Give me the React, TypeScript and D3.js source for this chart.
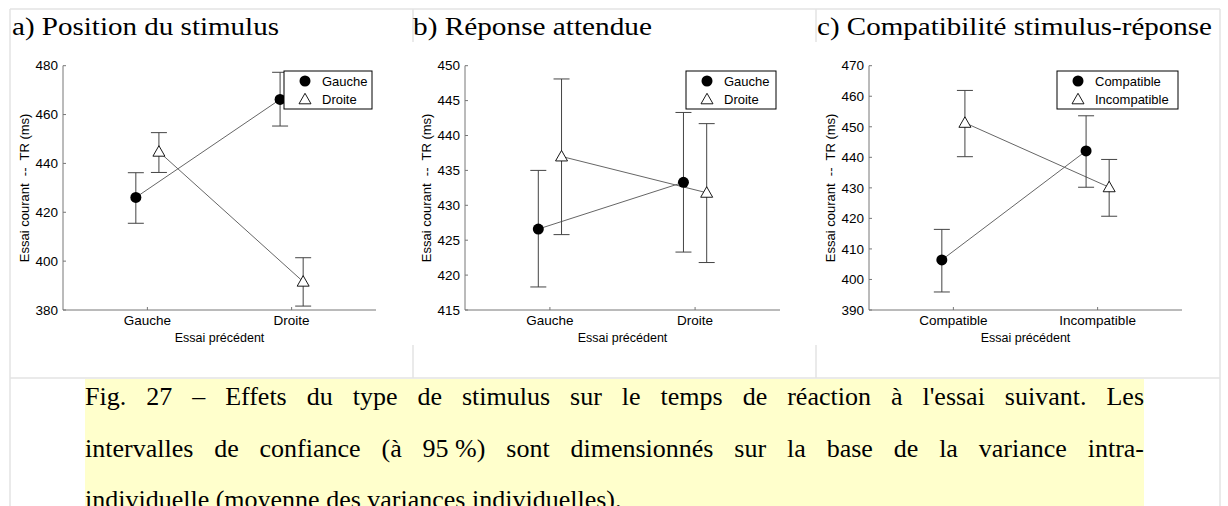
import React from 'react';
import * as d3 from 'd3';

// Panel a) Position du stimulus
const catsA = ['Gauche', 'Droite'];
const legendA = ['Gauche', 'Droite'];
const ticksA = [380, 400, 420, 440, 460, 480];
const meanA1 = [426.1, 466.2];
const loA1 = [415.5, 455.3];
const hiA1 = [436.2, 477.3];
const meanA2 = [444.8, 391.6];
const loA2 = [436.3, 381.6];
const hiA2 = [452.6, 401.4];

// Panel b) Réponse attendue
const catsB = ['Gauche', 'Droite'];
const legendB = ['Gauche', 'Droite'];
const ticksB = [415, 420, 425, 430, 435, 440, 445, 450];
const meanB1 = [426.6, 433.3];
const loB1 = [418.3, 423.3];
const hiB1 = [435.0, 443.3];
const meanB2 = [437.0, 431.8];
const loB2 = [425.8, 421.8];
const hiB2 = [448.1, 441.7];

// Panel c) Compatibilité stimulus-réponse
const catsC = ['Compatible', 'Incompatible'];
const legendC = ['Compatible', 'Incompatible'];
const ticksC = [390, 400, 410, 420, 430, 440, 450, 460, 470];
const meanC1 = [406.4, 442.1];
const loC1 = [395.9, 430.2];
const hiC1 = [416.4, 453.6];
const meanC2 = [451.3, 430.2];
const loC2 = [440.2, 420.7];
const hiC2 = [461.9, 439.3];

const captionLines = [
  "Fig. 27 – Effets du type de stimulus sur le temps de réaction à l'essai suivant. Les",
  'intervalles de confiance (à 95\u00a0%) sont dimensionnés sur la base de la variance intra-',
  'individuelle (moyenne des variances individuelles).',
];

const SANS = "'Liberation Sans', Arial, sans-serif";
const SERIF = "'Liberation Serif', 'Times New Roman', serif";

const panels = [
  {
    title: 'a) Position du stimulus', titleX: 12, titleW: 267,
    left: 63, right: 376, ticks: ticksA, cats: catsA, legend: legendA, legendW: 88,
    series: [
      { mean: meanA1, lo: loA1, hi: hiA1, marker: 'circle' },
      { mean: meanA2, lo: loA2, hi: hiA2, marker: 'triangle' },
    ],
  },
  {
    title: 'b) Réponse attendue', titleX: 413, titleW: 239,
    left: 465, right: 780, ticks: ticksB, cats: catsB, legend: legendB, legendW: 90,
    series: [
      { mean: meanB1, lo: loB1, hi: hiB1, marker: 'circle' },
      { mean: meanB2, lo: loB2, hi: hiB2, marker: 'triangle' },
    ],
  },
  {
    title: 'c) Compatibilité stimulus-réponse', titleX: 817, titleW: 395,
    left: 869, right: 1182, ticks: ticksC, cats: catsC, legend: legendC, legendW: 121,
    series: [
      { mean: meanC1, lo: loC1, hi: hiC1, marker: 'circle' },
      { mean: meanC2, lo: loC2, hi: hiC2, marker: 'triangle' },
    ],
  },
];

const TOP = 65.7;
const BOTTOM = 310;
const OFFSETS = [-0.08, 0.08];

const Marker: React.FC<{ kind: string; x: number; y: number }> = ({ kind, x, y }) => {
  if (kind === 'circle') return <circle cx={x} cy={y} r={5.5} fill="#000" />;
  const s = 6;
  const pts = `${x},${y - s} ${x + s},${y + s * 0.75} ${x - s},${y + s * 0.75}`;
  return <polygon points={pts} fill="#fff" stroke="#000" strokeWidth={0.9} />;
};

const Panel: React.FC<{ p: (typeof panels)[number] }> = ({ p }) => {
  const ticks = p.ticks;
  const y = d3.scaleLinear().domain([ticks[0], ticks[ticks.length - 1]]).range([BOTTOM, TOP]);
  const x = d3.scaleLinear().domain([0.415, 2.585]).range([p.left, p.right]);
  const midY = (TOP + BOTTOM) / 2;
  const boxX = p.right - 4 - p.legendW;
  return (
    <g>
      <text x={p.titleX} y={35} fontFamily={SERIF} fontSize={26} textLength={p.titleW}
        lengthAdjust="spacingAndGlyphs">{p.title}</text>
      {/* axes */}
      <line x1={p.left} x2={p.left} y1={TOP} y2={BOTTOM} stroke="#777" />
      <line x1={p.left} x2={p.right} y1={BOTTOM} y2={BOTTOM} stroke="#777" />
      {ticks.map(t => (
        <g key={t}>
          <line x1={p.left} x2={p.left + 3} y1={y(t)} y2={y(t)} stroke="#777" />
          <text x={p.left - 5} y={y(t)} dy="0.35em" textAnchor="end" fontFamily={SANS}
            fontSize={13.5}>{t}</text>
        </g>
      ))}
      {p.cats.map((c, i) => (
        <g key={c}>
          <line x1={x(i + 1)} x2={x(i + 1)} y1={BOTTOM} y2={BOTTOM - 3} stroke="#777" />
          <text x={x(i + 1)} y={325} textAnchor="middle" fontFamily={SANS} fontSize={13.5}>{c}</text>
        </g>
      ))}
      <text x={(p.left + p.right) / 2} y={342} textAnchor="middle" fontFamily={SANS}
        fontSize={12.5}>Essai précédent</text>
      <text transform={`translate(${p.left - 39},${midY}) rotate(-90)`} textAnchor="middle"
        dy="0.35em" fontFamily={SANS} fontSize={13} style={{ whiteSpace: 'pre' }}>
        {'Essai courant  --  TR (ms)'}
      </text>
      {/* connecting lines */}
      {p.series.map((s, si) => {
        const l = d3.line<number>()
          .x((_, i) => x(i + 1 + OFFSETS[si]))
          .y(d => y(d));
        return <path key={'l' + si} d={l(s.mean) || ''} fill="none" stroke="#666" strokeWidth={1} />;
      })}
      {/* error bars */}
      {p.series.map((s, si) =>
        s.mean.map((_, i) => {
          const cx = x(i + 1 + OFFSETS[si]);
          return (
            <g key={'e' + si + i} stroke="#444" strokeWidth={1}>
              <line x1={cx} x2={cx} y1={y(s.lo[i])} y2={y(s.hi[i])} />
              <line x1={cx - 8} x2={cx + 8} y1={y(s.lo[i])} y2={y(s.lo[i])} />
              <line x1={cx - 8} x2={cx + 8} y1={y(s.hi[i])} y2={y(s.hi[i])} />
            </g>
          );
        })
      )}
      {p.series.map((s, si) =>
        s.mean.map((m, i) => (
          <Marker key={'m' + si + i} kind={s.marker} x={x(i + 1 + OFFSETS[si])} y={y(m)} />
        ))
      )}
      {/* legend */}
      <rect x={boxX} y={71} width={p.legendW} height={38} fill="#fff" stroke="#000" strokeWidth={1} />
      {p.legend.map((name, i) => (
        <g key={name}>
          <Marker kind={p.series[i].marker} x={boxX + 21} y={81 + i * 18.3} />
          <text x={boxX + 38} y={81 + i * 18.3} dy="0.36em" fontFamily={SANS} fontSize={13}>{name}</text>
        </g>
      ))}
    </g>
  );
};

let canvasCtx: CanvasRenderingContext2D | null = null;
function measure(text: string, font: string) {
  if (!canvasCtx) canvasCtx = document.createElement('canvas').getContext('2d');
  canvasCtx!.font = font;
  return canvasCtx!.measureText(text).width;
}

const Caption: React.FC = () => {
  const font = "26px 'Liberation Serif'";
  const x0 = 85;
  const width = 1059;
  const baselines = [405, 457, 508];
  return (
    <g fontFamily={SERIF} fontSize={26}>
      {captionLines.map((ln, li) => {
        const words = ln.split(' ');
        const ws = words.map(w => measure(w, font));
        const total = ws.reduce((a, b) => a + b, 0);
        const last = li === captionLines.length - 1;
        const gap = last ? measure(' ', font) : (width - total) / (words.length - 1);
        let cx = x0;
        return words.map((w, wi) => {
          const el = <text key={li + '-' + wi} x={cx} y={baselines[li]}>{w}</text>;
          cx += ws[wi] + gap;
          return el;
        });
      })}
    </g>
  );
};

export default function App() {
  return (
    <svg width={1228} height={506} style={{ position: 'absolute', left: 0, top: 0, background: '#fff' }}>
      <rect x={0} y={0} width={1228} height={506} fill="#fff" />
      {/* table borders */}
      <g stroke="#e3e3e3" strokeWidth={1.5} fill="none">
        <line x1={10} x2={1220} y1={9} y2={9} />
        <line x1={10} x2={10} y1={9} y2={506} />
        <line x1={1220} x2={1220} y1={9} y2={506} />
        <line x1={10} x2={1220} y1={378} y2={378} />
        <line x1={413} x2={413} y1={9} y2={42} />
        <line x1={816} x2={816} y1={9} y2={42} />
        <line x1={413} x2={413} y1={345} y2={378} />
        <line x1={816} x2={816} y1={345} y2={378} />
      </g>
      <rect x={85} y={379} width={1059} height={127} fill="#ffffcc" />
      <Caption />
      {panels.map(p => <Panel key={p.title} p={p} />)}
    </svg>
  );
}
